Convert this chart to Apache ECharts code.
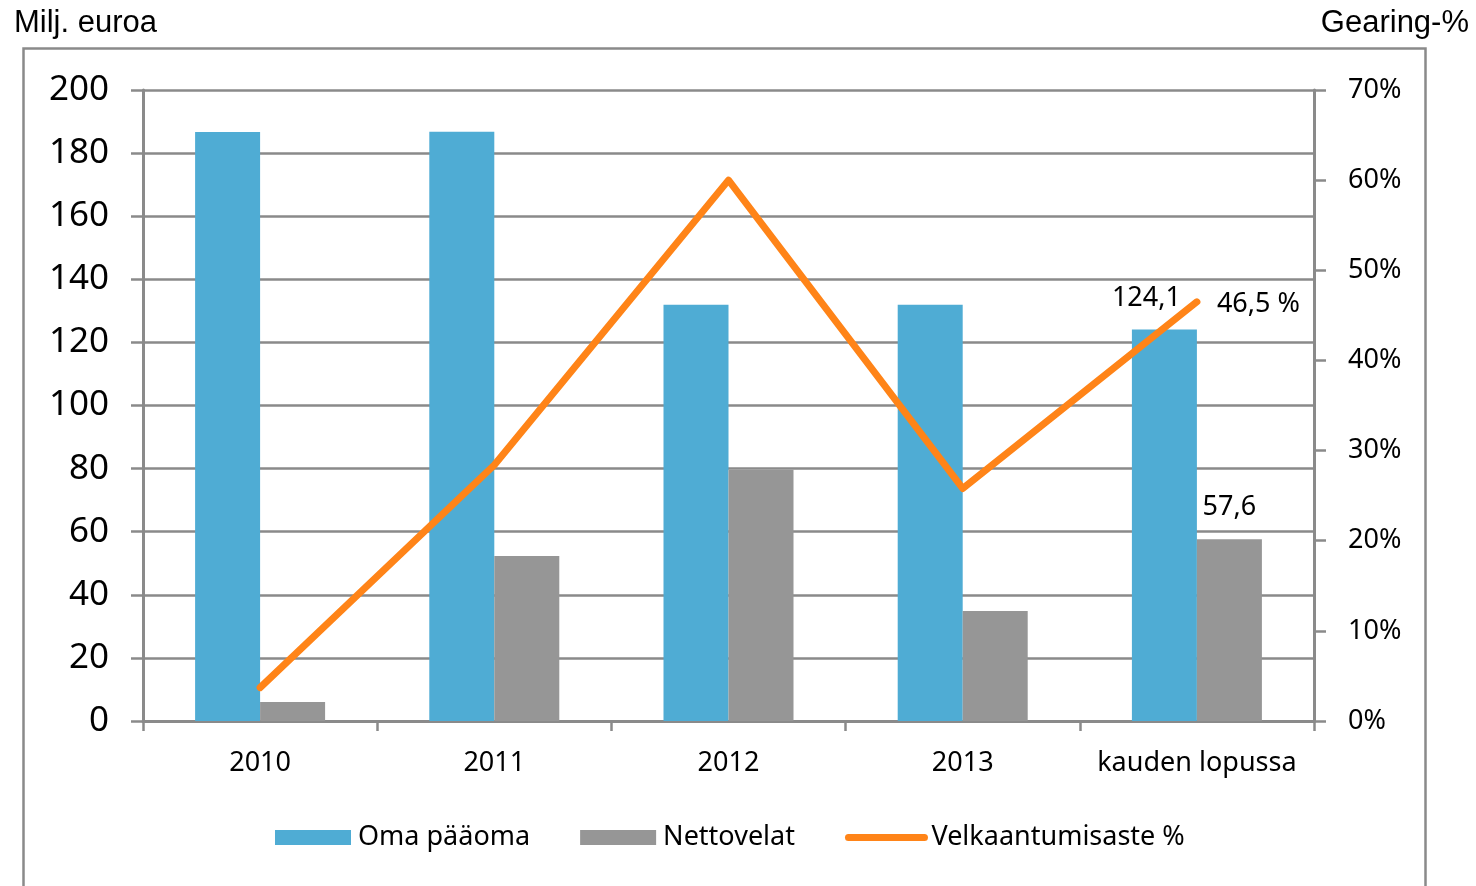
<!DOCTYPE html>
<html>
<head>
<meta charset="utf-8">
<script src="https://cdn.jsdelivr.net/npm/echarts@6/dist/echarts.min.js"></script>
<style>
html, body { margin: 0; padding: 0; background: #fff; }
#main { width: 1476px; height: 886px; }
</style>
</head>
<body>
<div id="main"></div>
<script>
// kategoriat ja sarjat
var categories = ['2010', '2011', '2012', '2013', 'kauden lopussa'];
var omaPaaoma = [186.7, 186.8, 131.9, 131.9, 124.1];
var nettovelat = [6.0, 52.3, 79.6, 34.9, 57.6];
var gearing = [0.037, 0.284, 0.600, 0.258, 0.465];
var leftTicks = { min: 0, max: 200, interval: 20 };
var rightTicks = { min: 0, max: 0.7, interval: 0.1 };

var axisGrey = '#8a8a8a';
var font = 'Noto Sans';

function fmt(v, d) {
    return v.toFixed(d).replace('.', ',');
}

// viimeisen pylvään arvo näkyviin
function lastLabel(arr, opts) {
    return arr.map(function (v, i) {
        if (i !== arr.length - 1) return v;
        return { value: v, label: opts };
    });
}

var myChart = echarts.init(document.getElementById('main'));
var option = {
    animation: false,
    textStyle: { fontFamily: font },
    grid: { left: 143, right: 162, top: 90, bottom: 165 },
    graphic: [
        {
            type: 'rect',
            shape: { x: 23.5, y: 48.5, width: 1402, height: 900 },
            style: { fill: 'none', stroke: axisGrey, lineWidth: 2.5 },
            silent: true, z: -1
        },
        {
            type: 'text', left: 14, top: 8,
            style: { text: 'Milj. euroa', font: '31px "Liberation Sans"', fill: '#000' }
        },
        {
            type: 'text', right: 7, top: 8,
            style: { text: 'Gearing-%', font: '31px "Liberation Sans"', fill: '#000' }
        }
    ],
    legend: {
        left: 270,
        top: 819,
        itemWidth: 76,
        itemHeight: 15,
        itemGap: 50,
        textStyle: { fontSize: 27, color: '#000', fontFamily: font, padding: [0, 0, 0, 2] },
        data: [
            { name: 'Oma pääoma', icon: 'rect' },
            { name: 'Nettovelat', icon: 'rect' },
            {
                name: 'Velkaantumisaste %',
                itemStyle: { opacity: 0 },
                lineStyle: { width: 7, cap: 'round', color: '#FF8418' }
            }
        ]
    },
    xAxis: {
        type: 'category',
        data: categories,
        axisLine: { lineStyle: { color: axisGrey, width: 3 } },
        axisTick: { show: true, length: 10, lineStyle: { color: axisGrey, width: 2.5 } },
        axisLabel: { fontSize: 27, color: '#000', margin: 29, interval: 0 }
    },
    yAxis: [
        {
            type: 'value',
            min: leftTicks.min, max: leftTicks.max, interval: leftTicks.interval,
            axisLine: { show: true, lineStyle: { color: axisGrey, width: 3 } },
            axisTick: { show: true, length: 12, lineStyle: { color: axisGrey, width: 2.5 } },
            axisLabel: { fontSize: 35, color: '#000', margin: 34 },
            splitLine: { show: true, lineStyle: { color: axisGrey, width: 2.5 } }
        },
        {
            type: 'value',
            min: rightTicks.min, max: rightTicks.max, interval: rightTicks.interval,
            axisLine: { show: true, lineStyle: { color: axisGrey, width: 3 } },
            axisTick: { show: true, length: 12, lineStyle: { color: axisGrey, width: 2.5 } },
            axisLabel: {
                fontSize: 27, color: '#000', margin: 34,
                formatter: function (v) { return Math.round(v * 100) + '%'; }
            },
            splitLine: { show: false }
        }
    ],
    series: [
        {
            name: 'Oma pääoma',
            type: 'bar',
            barWidth: 65,
            barGap: '0%',
            itemStyle: { color: '#4FACD4' },
            data: lastLabel(omaPaaoma, {
                show: true, position: 'top', distance: 18, offset: [-18, 0],
                fontSize: 27, color: '#000',
                formatter: function (p) { return fmt(p.value, 1); }
            })
        },
        {
            name: 'Nettovelat',
            type: 'bar',
            barWidth: 65,
            itemStyle: { color: '#969696' },
            data: lastLabel(nettovelat, {
                show: true, position: 'top', distance: 18,
                fontSize: 27, color: '#000',
                formatter: function (p) { return fmt(p.value, 1); }
            })
        },
        {
            name: 'Velkaantumisaste %',
            type: 'line',
            yAxisIndex: 1,
            symbol: 'none',
            z: 5,
            lineStyle: { color: '#FF8418', width: 7, cap: 'round', join: 'round' },
            itemStyle: { color: '#FF8418' },
            endLabel: {
                show: true, distance: 20, offset: [0, 2],
                fontSize: 27, color: '#000',
                formatter: function (p) { return fmt(p.value * 100, 1) + ' %'; }
            },
            data: gearing
        }
    ]
};
myChart.setOption(option);
</script>
</body>
</html>
